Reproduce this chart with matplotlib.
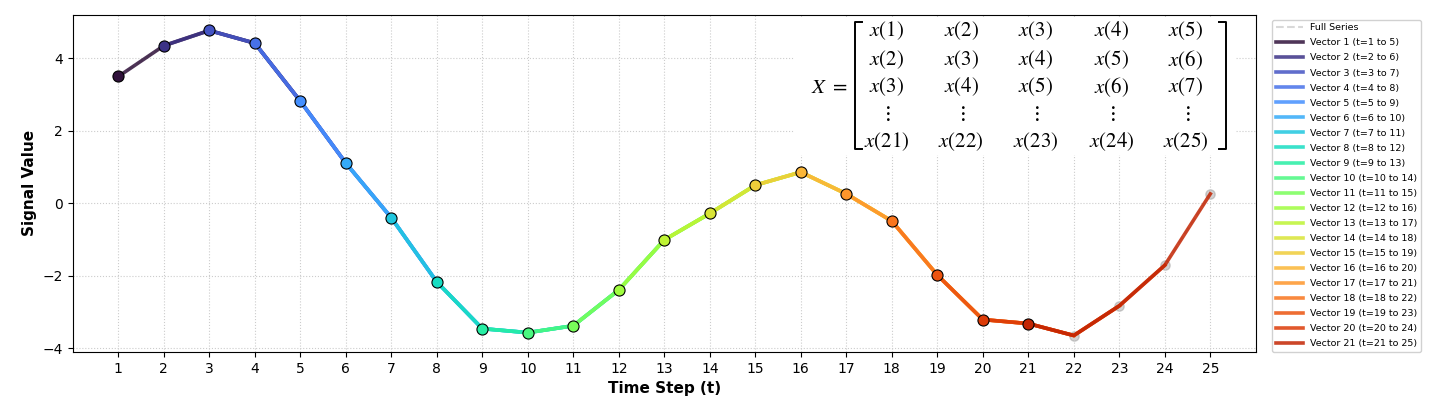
import numpy as np
import matplotlib
matplotlib.use("Agg")
from matplotlib import pyplot as plt
from matplotlib.lines import Line2D
from matplotlib.patches import Rectangle

# signal
t = np.arange(1, 26)
signal = [3.50, 4.35, 4.77, 4.42, 2.82, 1.11, -0.40, -2.17, -3.46, -3.57,
          -3.38, -2.39, -1.01, -0.28, 0.50, 0.86, 0.26, -0.49, -1.98, -3.21,
          -3.32, -3.65, -2.83, -1.71, 0.26]
window = 5
n_vectors = len(signal) - window + 1

fig = plt.figure(figsize=(14.56, 4.03), dpi=100)
ax = fig.add_axes([0.050, 0.127, 0.8125, 0.836])

ax.plot(t, signal, linestyle="--", color="gray", lw=1.5, alpha=0.3,
        label="Full Series", zorder=1)
ax.scatter(t, signal, color="gray", s=45, alpha=0.35, zorder=1)

colors = plt.cm.turbo(np.linspace(0, 0.9, n_vectors))
for i in range(n_vectors):
    ts = t[i:i + window]
    vs = signal[i:i + window]
    ax.plot(ts, vs, color=colors[i], lw=2.6, alpha=0.85, zorder=2 + i,
            label=f"Vector {i+1} (t={ts[0]} to {ts[-1]})")
    ax.plot(ts[0], vs[0], "o", color=colors[i], markersize=8,
            markeredgecolor="black", markeredgewidth=0.8, zorder=30)

ax.set_xlim(0, 26)
ax.set_ylim(-4.1, 5.2)
ax.set_xticks(t)
ax.set_yticks([-4, -2, 0, 2, 4])
ax.tick_params(labelsize=10)
ax.grid(True, linestyle=":", color="#cccccc", lw=0.8)
ax.set_xlabel("Time Step (t)", fontsize=11, fontweight="bold")
ax.set_ylabel("Signal Value", fontsize=11, fontweight="bold")

ax.legend(loc="upper left", bbox_to_anchor=(1.01, 1.0), fontsize=6.8,
          framealpha=0.9, handlelength=2.8, labelspacing=0.64)

# trajectory matrix annotation (white box hides the grid behind it)
ax.add_patch(Rectangle((0.610, 0.585), 0.373, 0.41, transform=ax.transAxes,
                       facecolor="white", edgecolor="none", zorder=35))
plt.rcParams["mathtext.fontset"] = "stix"
col_x = [0.688, 0.751, 0.814, 0.878, 0.941]
row_y = [0.953, 0.867, 0.787, 0.708, 0.624]
rows = [[1, 2, 3, 4, 5], [2, 3, 4, 5, 6], [3, 4, 5, 6, 7], None,
        [21, 22, 23, 24, 25]]
for r, yy in zip(rows, row_y):
    for j, xx in enumerate(col_x):
        if r is None:
            txt = r"$\vdots$"
        else:
            txt = rf"$x({r[j]})$"
        ax.text(xx, yy, txt, transform=ax.transAxes, ha="center", va="center",
                fontsize=15, zorder=40)
ax.text(0.655, 0.787, r"$X\ =$", transform=ax.transAxes, ha="right",
        va="center", fontsize=15, zorder=40)
bl, br, bt, bb = 0.661, 0.975, 0.979, 0.603
ax.add_line(Line2D([bl + 0.006, bl, bl, bl + 0.006], [bt, bt, bb, bb],
                   transform=ax.transAxes, color="black", lw=1.4, zorder=40))
ax.add_line(Line2D([br - 0.006, br, br, br - 0.006], [bt, bt, bb, bb],
                   transform=ax.transAxes, color="black", lw=1.4, zorder=40))

fig.savefig("out.png", dpi=100)
